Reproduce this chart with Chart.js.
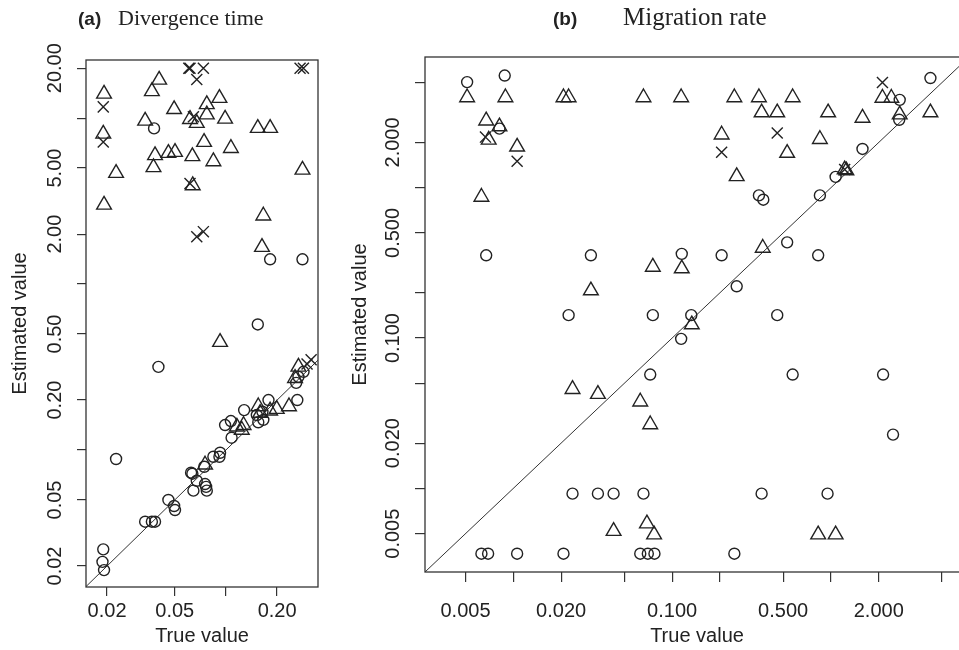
<!DOCTYPE html>
<html>
<head>
<meta charset="utf-8">
<script src="https://cdn.jsdelivr.net/npm/chart.js@4.4.1/dist/chart.umd.min.js"></script>
<style>
  html, body { margin: 0; padding: 0; width: 959px; height: 650px; overflow: hidden; background: #fff; }
  canvas { position: absolute; top: 0; }
  #ca { left: 0; }
  #cb { left: 340px; }
</style>
</head>
<body>
<canvas id="ca" width="340" height="650"></canvas>
<canvas id="cb" width="640" height="650"></canvas>
<script>
// ---------- (a) Divergence time: true vs estimated ----------
const divCircX = [0.0378, 0.182, 0.282, 0.154, 0.0401, 0.0226,
  0.019, 0.0188, 0.0192, 0.0335, 0.0367, 0.0383, 0.0459, 0.0496, 0.0502,
  0.0624, 0.0635, 0.0644, 0.0674, 0.0765, 0.0772, 0.0754, 0.0746,
  0.0844, 0.0924, 0.0916, 0.108, 0.0989, 0.107,
  0.128, 0.152, 0.166, 0.155, 0.164, 0.178, 0.263, 0.259, 0.267, 0.286];
const divCircY = [8.67, 1.41, 1.41, 0.571, 0.317, 0.0883,
  0.0252, 0.0212, 0.0189, 0.037, 0.037, 0.037, 0.050, 0.046, 0.0435,
  0.073, 0.072, 0.0569, 0.0653, 0.060, 0.0569, 0.0624, 0.0793,
  0.0911, 0.0963, 0.0911, 0.1186, 0.1414, 0.1495,
  0.174, 0.1625, 0.152, 0.147, 0.170, 0.200, 0.200, 0.254, 0.276, 0.296];

const divTriX = [0.0405, 0.0367, 0.0192, 0.0496, 0.0772, 0.0916, 0.0772, 0.0335, 0.0615, 0.0674,
  0.0989, 0.154, 0.182, 0.019, 0.0744, 0.107, 0.0383, 0.0459, 0.0502, 0.0635,
  0.0844, 0.0375, 0.0226, 0.282, 0.0638, 0.0192, 0.166, 0.163, 0.0924,
  0.0754, 0.116, 0.127, 0.124, 0.155, 0.159, 0.182, 0.199, 0.235, 0.255, 0.267];
const divTriY = [17.0, 14.5, 14.0, 11.3, 12.1, 13.2, 10.5, 9.63, 9.85, 9.33,
  9.9, 8.70, 8.70, 8.04, 7.17, 6.59, 5.96, 6.15, 6.24, 5.88,
  5.48, 5.05, 4.66, 4.88, 3.93, 3.0, 2.58, 1.67, 0.447,
  0.0815, 0.138, 0.141, 0.132, 0.183, 0.167, 0.1725, 0.1765, 0.183, 0.271, 0.317];

const divCrossX = [0.0605, 0.0615, 0.0737, 0.0674, 0.273, 0.2856, 0.019, 0.019, 0.0644, 0.0615, 0.0674, 0.0737, 0.30, 0.317];
const divCrossY = [20, 20, 20, 17.1, 20, 20, 11.69, 7.19, 10.18, 4.04, 1.93, 2.07, 0.33, 0.35];

const divXTicks = [0.02, 0.05, 0.1, 0.2];
const divXLabels = ['0.02', '0.05', '', '0.20'];
const divYTicks = [0.02, 0.05, 0.1, 0.2, 0.5, 1, 2, 5, 10, 20];
const divYLabels = ['0.02', '0.05', '', '0.20', '0.50', '', '2.00', '5.00', '', '20.00'];

// ---------- (b) Migration rate: true vs estimated ----------
const migCircX = [0.00512, 0.00883, 0.00818, 2.71, 2.69, 4.23, 1.58, 1.07, 0.352, 0.375,
  0.852, 0.53, 0.00675, 0.0308, 0.115, 0.205, 0.831, 0.255, 0.0223, 0.0756,
  0.132, 0.114, 0.0728, 0.459, 0.574, 2.13, 2.46, 0.0236, 0.0341, 0.0428,
  0.066, 0.366, 0.952, 0.0063, 0.00694, 0.01057, 0.0207, 0.063, 0.0703, 0.0774, 0.2465];
const migCircY = [5.04, 5.57, 2.47, 3.84, 2.83, 5.36, 1.81, 1.18, 0.889, 0.832,
  0.889, 0.433, 0.355, 0.355, 0.363, 0.355, 0.355, 0.221, 0.142, 0.142,
  0.142, 0.0988, 0.0572, 0.142, 0.0572, 0.0572, 0.0228, 0.00923, 0.00923, 0.00923,
  0.00923, 0.00923, 0.00923, 0.00368, 0.00368, 0.00368, 0.00368, 0.00368, 0.00368, 0.00368, 0.00368];

const migTriX = [0.00512, 0.00892, 0.0207, 0.0223, 0.066, 0.114, 0.2465, 0.352, 0.574, 2.11,
  2.40, 0.366, 0.459, 0.96, 4.23, 2.71, 1.58, 0.00675, 0.00818, 0.007,
  0.01057, 0.205, 0.852, 0.53, 0.255, 1.22, 1.25, 0.0063, 0.372, 0.0756,
  0.115, 0.0308, 0.133, 0.0236, 0.0341, 0.063, 0.0728, 0.0428, 0.0694, 0.077,
  0.831, 1.07];
const migTriY = [3.98, 3.98, 3.98, 3.98, 3.98, 3.98, 3.98, 3.98, 3.98, 3.95,
  3.95, 3.16, 3.16, 3.16, 3.16, 3.06, 2.91, 2.79, 2.55, 2.08,
  1.87, 2.25, 2.1, 1.70, 1.19, 1.32, 1.30, 0.867, 0.397, 0.297,
  0.29, 0.207, 0.123, 0.0457, 0.0424, 0.0377, 0.0266, 0.0052, 0.00583, 0.00493,
  0.00493, 0.00493];

const migCrossX = [0.00668, 0.01057, 2.11, 0.459, 0.205, 1.22];
const migCrossY = [2.17, 1.50, 5.01, 2.31, 1.72, 1.32];

const migTicks = [0.005, 0.01, 0.02, 0.05, 0.1, 0.2, 0.5, 1, 2, 5];
const migLabels = ['0.005', '', '0.020', '', '0.100', '', '0.500', '', '2.000', ''];

// ---------- shared styling ----------
const INK = '#222';
const SANS = '"Liberation Sans", Arial, sans-serif';
const SERIF = '"Liberation Serif", "Times New Roman", serif';
const TICK_FONT = { family: SANS, size: 20 };

const pts = (xs, ys) => xs.map((x, i) => ({ x, y: ys[i] }));

function markers(xs, ys, style, radius) {
  return {
    type: 'scatter',
    data: pts(xs, ys),
    pointStyle: style,
    pointRadius: radius,
    pointHoverRadius: radius,
    backgroundColor: 'rgba(0,0,0,0)',
    borderColor: INK,
    pointBorderWidth: 1.4,
    borderWidth: 1.4
  };
}

function identityLine() {
  return {
    type: 'scatter',
    data: [{ x: 1e-4, y: 1e-4 }, { x: 1e3, y: 1e3 }],
    showLine: true,
    pointRadius: 0,
    borderColor: '#333',
    borderWidth: 1,
    fill: false
  };
}

function axis(o) {
  const horizontal = o.position === 'bottom';
  return {
    type: 'logarithmic',
    position: o.position,
    min: o.min,
    max: o.max,
    afterBuildTicks: s => { s.ticks = o.ticks.map(v => ({ value: v })); },
    afterFit: s => { if (horizontal) s.height = o.size; else s.width = o.size; },
    ticks: {
      autoSkip: false,
      color: INK,
      font: TICK_FONT,
      padding: o.pad,
      minRotation: horizontal ? 0 : 90,
      maxRotation: horizontal ? 0 : 90,
      crossAlign: horizontal ? 'near' : 'center',
      callback: (v, i) => o.labels[i]
    },
    grid: { drawOnChartArea: false, drawTicks: true, tickLength: o.tl, color: '#333', lineWidth: 1.2 },
    border: { display: false },
    title: {
      display: true,
      text: o.title,
      color: INK,
      font: { family: SANS, size: 20 },
      padding: horizontal ? { top: 0, bottom: o.titlePad } : { top: o.titlePad, bottom: 0 }
    }
  };
}

const frame = {
  id: 'frame',
  beforeDatasetsDraw(chart) {
    const { ctx, chartArea: a } = chart;
    ctx.save();
    ctx.strokeStyle = '#333';
    ctx.lineWidth = 1.3;
    ctx.strokeRect(a.left, a.top, a.right - a.left, a.bottom - a.top);
    ctx.restore();
  }
};

function heading(tag, text, tagX, textX, size) {
  return {
    id: 'heading',
    afterDraw(chart) {
      const ctx = chart.ctx;
      ctx.save();
      ctx.fillStyle = INK;
      ctx.textBaseline = 'alphabetic';
      ctx.textAlign = 'left';
      ctx.font = 'bold 19px ' + SANS;
      ctx.fillText(tag, tagX, 25);
      ctx.font = size + 'px ' + SERIF;
      ctx.fillText(text, textX, 25);
      ctx.restore();
    }
  };
}

function panel(id, cfg) {
  return new Chart(document.getElementById(id), {
    type: 'scatter',
    data: { datasets: cfg.datasets },
    options: {
      responsive: false,
      animation: false,
      events: [],
      layout: { padding: cfg.padding },
      plugins: { legend: { display: false }, tooltip: { enabled: false }, title: { display: false } },
      scales: { x: axis(cfg.x), y: axis(cfg.y) }
    },
    plugins: [frame, heading(cfg.tag, cfg.text, cfg.tagX, cfg.textX, cfg.textSize)]
  });
}

// (a)
panel('ca', {
  tag: '(a)', text: 'Divergence time', tagX: 78, textX: 118, textSize: 22,
  padding: { left: 0, right: 22, top: 60, bottom: 0 },
  x: { position: 'bottom', min: 0.01504, max: 0.348, ticks: divXTicks, labels: divXLabels,
       size: 63, tl: 9, pad: 3.5, title: 'True value', titlePad: 2 },
  y: { position: 'left', min: 0.01495, max: 22.4, ticks: divYTicks, labels: divYLabels,
       size: 86, tl: 9, pad: -4, title: 'Estimated value', titlePad: 8 },
  datasets: [
    markers(divCrossX, divCrossY, 'crossRot', 7.8),
    markers(divTriX, divTriY, 'triangle', 8.5),
    markers(divCircX, divCircY, 'circle', 5.5),
    identityLine()
  ]
});

// (b)
panel('cb', {
  tag: '(b)', text: 'Migration rate', tagX: 553 - 340, textX: 623 - 340, textSize: 25,
  padding: { left: 0, right: 11, top: 57, bottom: 0 },
  x: { position: 'bottom', min: 0.00278, max: 7.4, ticks: migTicks, labels: migLabels,
       size: 78, tl: 10, pad: 17, title: 'True value', titlePad: 2 },
  y: { position: 'left', min: 0.00278, max: 7.4, ticks: migTicks, labels: migLabels,
       size: 85, tl: 10, pad: -4, title: 'Estimated value', titlePad: 8.5 },
  datasets: [
    markers(migCrossX, migCrossY, 'crossRot', 7.8),
    markers(migTriX, migTriY, 'triangle', 8.5),
    markers(migCircX, migCircY, 'circle', 5.5),
    identityLine()
  ]
});
</script>
</body>
</html>
